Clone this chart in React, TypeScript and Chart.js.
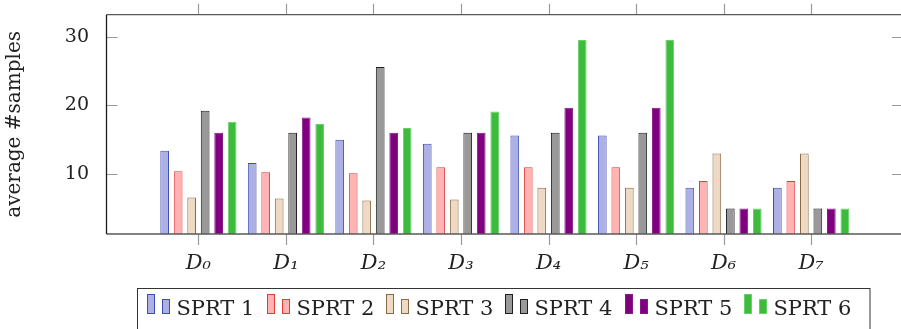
import React, { useEffect, useRef } from 'react';
import { Chart, registerables } from 'chart.js';

Chart.register(...registerables);

// ---- data ----
const categories = [0, 1, 2, 3, 4, 5, 6, 7];
const tickLabels = ['D₀', 'D₁', 'D₂', 'D₃', 'D₄', 'D₅', 'D₆', 'D₇'];
const seriesNames = ['SPRT 1', 'SPRT 2', 'SPRT 3', 'SPRT 4', 'SPRT 5', 'SPRT 6'];
const sprt1 = [13.4, 11.6, 15.0, 14.4, 15.6, 15.6, 8, 8];
const sprt2 = [10.4, 10.25, 10.1, 11.0, 11.0, 11.0, 9, 9];
const sprt3 = [6.6, 6.45, 6.15, 6.3, 8.0, 8.0, 13, 13];
const sprt4 = [19.2, 16, 25.6, 16, 16, 16, 5, 5];
const sprt5 = [16, 18.25, 16, 16, 19.65, 19.65, 5, 5];
const sprt6 = [17.6, 17.3, 16.7, 19.1, 29.5, 29.5, 5, 5];
const yTickValues = [10, 20, 30];
const yTitle = 'average #samples';

// ---- styles ----
const fills = ['#adb0e4', '#ffb3b3', '#eed9c4', '#999999', '#800080', '#3cbb3c'];
const borders = ['#3d4db3', '#e33b3b', '#8a6a45', '#1e1e1e', '#861a86', '#69d069'];
const FONT = "'DejaVu Serif', 'Liberation Serif', serif";
const W = 920;
const H = 329;

export default function App() {
  const ref = useRef<HTMLCanvasElement>(null);

  useEffect(() => {
    const canvas = ref.current as HTMLCanvasElement;
    const series = [sprt1, sprt2, sprt3, sprt4, sprt5, sprt6];

    const decor = {
      id: 'decor',
      afterDatasetsDraw(chart: any) {
        const { ctx, chartArea } = chart;
        const { left, right, top, bottom } = chartArea;
        const xs = chart.scales.x;
        const ys = chart.scales.y;
        ctx.save();
        // tick marks
        ctx.strokeStyle = '#9a9a9a';
        ctx.lineWidth = 1.2;
        ctx.beginPath();
        yTickValues.forEach((v) => {
          const y = Math.round(ys.getPixelForValue(v)) + 0.5;
          ctx.moveTo(left, y);
          ctx.lineTo(left + 11, y);
          ctx.moveTo(right - 11, y);
          ctx.lineTo(right, y);
        });
        categories.forEach((c) => {
          const x = Math.round(xs.getPixelForValue(c)) + 0.5;
          ctx.moveTo(x, top - 11);
          ctx.lineTo(x, top);
          ctx.moveTo(x, bottom);
          ctx.lineTo(x, bottom + 11);
        });
        ctx.stroke();
        // frame
        ctx.strokeStyle = '#5a5a5a';
        ctx.lineWidth = 1.3;
        ctx.beginPath();
        ctx.moveTo(left, top);
        ctx.lineTo(right, top);
        ctx.moveTo(left, bottom);
        ctx.lineTo(right, bottom);
        ctx.moveTo(right, top);
        ctx.lineTo(right, bottom);
        ctx.stroke();
        ctx.strokeStyle = '#1a1a1a';
        ctx.beginPath();
        ctx.moveTo(left, top);
        ctx.lineTo(left, bottom);
        ctx.stroke();
        ctx.restore();
      },
      afterDraw(chart: any) {
        const ctx = chart.ctx;
        ctx.save();
        ctx.font = `21px ${FONT}`;
        const start = 147.3;
        const pitch = 119.3;
        ctx.strokeStyle = '#333';
        ctx.lineWidth = 1;
        ctx.strokeRect(137.5, 288.5, 870 - 137.5, 80);
        seriesNames.forEach((name, k) => {
          const x = Math.round(start + pitch * k);
          ctx.fillStyle = fills[k];
          ctx.strokeStyle = borders[k];
          ctx.fillRect(x, 294, 8, 20);
          ctx.strokeRect(x + 0.5, 294.5, 7, 19);
          ctx.fillRect(x + 15, 299, 8, 15);
          ctx.strokeRect(x + 15.5, 299.5, 7, 14);
          ctx.fillStyle = '#222';
          ctx.textBaseline = 'alphabetic';
          ctx.textAlign = 'left';
          ctx.fillText(name, x + 29.4, 315);
        });
        ctx.restore();
      },
    };

    const chart = new Chart(canvas, {
      type: 'bar',
      data: {
        datasets: series.map((vals, k) => ({
          label: seriesNames[k],
          data: categories.map((c, i) => ({ x: c, y: vals[i] })),
          backgroundColor: fills[k],
          borderColor: borders[k],
          borderWidth: 1,
          categoryPercentage: 0.925,
          barPercentage: 0.645,
        })),
      },
      options: {
        responsive: false,
        animation: false,
        devicePixelRatio: 1,
        events: [],
        layout: { padding: { left: 0, top: 14.7, right: W - 903, bottom: 0 } },
        plugins: {
          legend: { display: false },
          tooltip: { enabled: false },
        },
        scales: {
          x: {
            type: 'linear',
            min: -1.05,
            max: 8.05,
            offset: false,
            afterBuildTicks: (s: any) => {
              s.ticks = categories.map((c) => ({ value: c }));
            },
            afterFit: (s: any) => {
              s.height = 95;
              s.paddingLeft = 0;
              s.paddingRight = 0;
              s.paddingTop = 0;
              s.paddingBottom = 0;
            },
            grid: { display: false },
            border: { display: false },
            ticks: {
              autoSkip: false,
              maxRotation: 0,
              padding: 9,
              color: '#222',
              font: { family: FONT, size: 21, style: 'italic' },
              callback: (v: any) => tickLabels[categories.indexOf(Number(v))] ?? '',
            },
          },
          y: {
            type: 'linear',
            min: 1.27,
            max: 33.2,
            afterBuildTicks: (s: any) => {
              s.ticks = yTickValues.map((v) => ({ value: v }));
            },
            afterFit: (s: any) => {
              s.width = 106.5;
              s.paddingLeft = 0;
              s.paddingRight = 0;
              s.paddingTop = 0;
              s.paddingBottom = 0;
            },
            grid: { display: false },
            border: { display: false },
            ticks: {
              padding: 9.5,
              color: '#222',
              font: { family: FONT, size: 19 },
            },
            title: {
              display: true,
              text: yTitle,
              color: '#222',
              font: { family: FONT, size: 20 },
              padding: { top: 3, bottom: 0 },
            },
          },
        },
      },
      plugins: [decor],
    } as any);

    return () => chart.destroy();
  }, []);

  return (
    <div
      style={{
        position: 'fixed',
        left: 0,
        top: 0,
        width: 901,
        height: 329,
        overflow: 'hidden',
        background: '#fff',
      }}
    >
      <canvas ref={ref} width={W} height={H} style={{ display: 'block', width: W, height: H }} />
    </div>
  );
}
